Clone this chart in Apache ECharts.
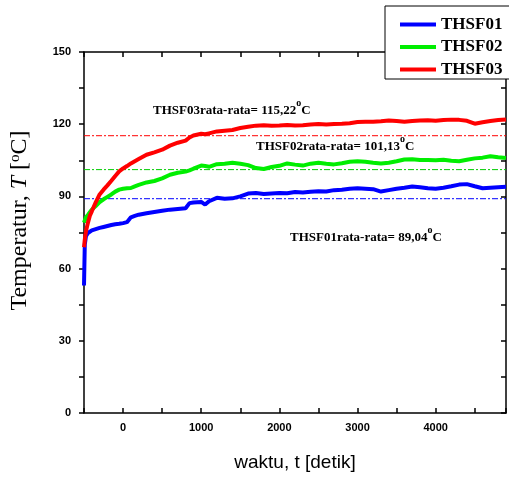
<!DOCTYPE html>
<html>
<head>
<meta charset="utf-8">
<script src="https://cdn.jsdelivr.net/npm/echarts@6/dist/echarts.min.js"></script>
<style>
  html, body { margin: 0; padding: 0; background: #fff; }
  #chart { width: 509px; height: 477px; }
</style>
</head>
<body>
<div id="chart"></div>
<script>
// waktu (detik)
var time = [-500, -490, -475, -450, -425, -400, -350, -300, -250, -200, -150, -100, -50,
    0, 50, 100, 150, 200, 300, 400, 500, 600, 700, 800, 850, 900, 1000, 1050, 1100,
    1200, 1300, 1400, 1500, 1600, 1700, 1800, 1900, 2000, 2100, 2200, 2300, 2400, 2500,
    2600, 2700, 2800, 2900, 3000, 3100, 3200, 3300, 3400, 3500, 3600, 3700, 3800, 3900,
    4000, 4100, 4200, 4300, 4400, 4500, 4600, 4700, 4800, 4900];

var thsf01 = [53, 70, 73.5, 74.8, 75.4, 75.9, 76.4, 76.9, 77.3, 77.7, 78.1, 78.4, 78.6,
    78.9, 79.3, 81.3, 81.9, 82.4, 83.0, 83.5, 84.0, 84.5, 84.8, 85.1, 87.2, 87.5, 87.7, 86.6, 88.0,
    89.4, 89.0, 89.2, 90.0, 91.2, 91.4, 91.0, 91.2, 91.4, 91.3, 91.8, 91.6, 91.9, 92.1,
    92.0, 92.6, 92.8, 93.2, 93.4, 93.2, 93.0, 92.0, 92.6, 93.2, 93.6, 94.1, 93.8, 93.4,
    93.2, 93.6, 94.2, 94.9, 95.1, 94.2, 93.4, 93.6, 93.8, 94.0];

var thsf02 = [79.1, 80, 81.3, 82.3, 83.4, 84.5, 86, 87.6, 88.8, 89.8, 90.8, 92, 92.8,
    93.2, 93.4, 93.5, 94.2, 94.8, 95.8, 96.4, 97.5, 99.0, 99.8, 100.3, 100.8, 101.5, 102.8, 102.6, 102.3,
    103.4, 103.6, 104.0, 103.6, 103.0, 101.8, 101.4, 102.2, 102.7, 103.7, 103.2, 102.8, 103.6, 104.0,
    103.6, 103.3, 103.8, 104.4, 104.6, 104.4, 104.0, 103.7, 104.0, 104.6, 105.3, 105.4, 105.1, 105.1,
    105.0, 105.2, 104.8, 104.6, 105.2, 105.8, 106.1, 106.7, 106.3, 106.0];

var thsf03 = [68.9, 72, 75.5, 79, 82, 83.8, 87.5, 90.8, 92.8, 94.6, 96.5, 98.5, 100.4,
    101.6, 102.6, 103.7, 104.6, 105.5, 107.3, 108.3, 109.4, 111.1, 112.3, 113.2, 114.5, 115.3, 116.0, 115.8, 116.2,
    117.0, 117.3, 117.6, 118.4, 118.9, 119.4, 119.6, 119.4, 119.5, 119.7, 119.5, 119.6, 119.9, 120.1,
    119.9, 120.1, 120.2, 120.4, 120.9, 121.0, 121.0, 121.2, 121.5, 121.3, 121.0, 121.3, 121.5, 121.6,
    121.4, 121.7, 121.9, 121.8, 121.4, 120.2, 120.8, 121.3, 121.7, 122.0];

var names = ['THSF01', 'THSF02', 'THSF03'];
var rataRata = [89.04, 101.13, 115.22];
var colors = ['#0000ff', '#00ee00', '#ff0000'];
var avgColors = ['#0000ff', '#00cc00', '#ff0000'];

var serif = '"Liberation Serif", "Times New Roman", serif';
var sans = '"Liberation Sans", Arial, sans-serif';

function pair(vals) {
    var out = [];
    for (var i = 0; i < time.length; i++) {
        out.push([time[i], vals[i]]);
    }
    return out;
}

function fmt(v) {
    return v.toFixed(2).replace('.', ',');
}

var allData = [thsf01, thsf02, thsf03];
var series = [];
// garis rata-rata dulu, supaya ada di bawah kurva
for (var j = 0; j < 3; j++) {
    series.push({
        name: names[j] + ' rata-rata',
        type: 'line',
        symbol: 'none',
        silent: true,
        z: 2,
        data: [[time[0], rataRata[j]], [time[time.length - 1], rataRata[j]]],
        lineStyle: { width: 1, color: avgColors[j], type: [6, 2, 2, 2] },
        itemStyle: { color: avgColors[j] }
    });
}
for (var k = 0; k < 3; k++) {
    series.push({
        name: names[k],
        type: 'line',
        symbol: 'none',
        data: pair(allData[k]),
        lineStyle: { width: 4, color: colors[k] },
        itemStyle: { color: colors[k] },
        z: 3 + k
    });
}

var annRich = {
    a: { fontFamily: serif, fontWeight: 'bold', fontSize: 13, color: '#111', verticalAlign: 'bottom' },
    s: { fontFamily: serif, fontWeight: 'bold', fontSize: 10, color: '#111', verticalAlign: 'bottom', padding: [0, 0, 9, 0] }
};
function annText(i) {
    return '{a|' + names[i] + 'rata-rata= ' + fmt(rataRata[i]) + '}{s|o}{a|C}';
}

var option = {
    animation: false,
    backgroundColor: '#fff',
    grid: { left: 83, right: 0, top: 52, bottom: 59 },
    legend: {
        orient: 'vertical',
        left: 385,
        top: 6,
        padding: [10, 30, 1, 15],
        itemGap: 5.5,
        itemWidth: 36,
        itemHeight: 4,
        icon: 'rect',
        borderColor: '#000',
        borderWidth: 1,
        backgroundColor: '#fff',
        textStyle: { fontFamily: serif, fontWeight: 'bold', fontSize: 17, color: '#000', lineHeight: 17 },
        data: names
    },
    xAxis: [{
        type: 'value',
        min: -500,
        max: 4900,
        interval: 500,
        name: 'waktu, t [detik]',
        nameLocation: 'middle',
        nameGap: 40,
        nameTextStyle: { fontFamily: sans, fontSize: 19, color: '#000' },
        axisLine: { onZero: false, lineStyle: { color: '#000', width: 1.5 } },
        axisTick: { inside: true, length: 5, lineStyle: { color: '#000', width: 1.5 } },
        axisLabel: {
            margin: 9,
            fontFamily: sans, fontWeight: 'bold', fontSize: 11, color: '#000',
            formatter: function (v) { return v % 1000 === 0 ? String(v) : ''; }
        },
        splitLine: { show: false }
    }, {
        type: 'value',
        position: 'top',
        min: -500,
        max: 4900,
        interval: 500,
        axisLine: { show: true, onZero: false, lineStyle: { color: '#000', width: 1.5 } },
        axisTick: { show: true, inside: true, length: 5, lineStyle: { color: '#000', width: 1.5 } },
        axisLabel: { show: false },
        splitLine: { show: false }
    }],
    yAxis: [{
        type: 'value',
        min: 0,
        max: 150,
        interval: 15,
        name: '{n|Temperatur, }{i|T}{n| [}{s|o}{n|C]}',
        nameLocation: 'middle',
        nameGap: 52,
        nameTextStyle: {
            padding: [0, 0, 0, 24],
            rich: {
                n: { fontFamily: serif, fontSize: 24, color: '#000', verticalAlign: 'bottom' },
                i: { fontFamily: serif, fontSize: 24, fontStyle: 'italic', color: '#000', verticalAlign: 'bottom' },
                s: { fontFamily: serif, fontSize: 15, color: '#000', verticalAlign: 'bottom', padding: [0, 0, 9, 0] }
            }
        },
        axisLine: { show: true, onZero: false, lineStyle: { color: '#000', width: 1.5 } },
        axisTick: { show: true, length: 5, lineStyle: { color: '#000', width: 1.5 } },
        axisLabel: {
            margin: 13,
            fontFamily: sans, fontWeight: 'bold', fontSize: 11, color: '#000',
            formatter: function (v) { return v % 30 === 0 ? String(v) : ''; }
        },
        splitLine: { show: false }
    }, {
        type: 'value',
        position: 'right',
        min: 0,
        max: 150,
        interval: 15,
        axisLine: { show: true, onZero: false, lineStyle: { color: '#000', width: 1.5 } },
        axisTick: { show: true, inside: true, length: 5, lineStyle: { color: '#000', width: 1.5 } },
        axisLabel: { show: false },
        splitLine: { show: false }
    }],
    graphic: [
        { type: 'text', left: 153, top: 98, z: 10, style: { text: annText(2), rich: annRich } },
        { type: 'text', left: 256, top: 134, z: 10, style: { text: annText(1), rich: annRich } },
        { type: 'text', left: 290, top: 225, z: 10, style: { text: annText(0), rich: annRich } }
    ],
    series: series
};

var myChart = echarts.init(document.getElementById('chart'));
myChart.setOption(option);
</script>
</body>
</html>
